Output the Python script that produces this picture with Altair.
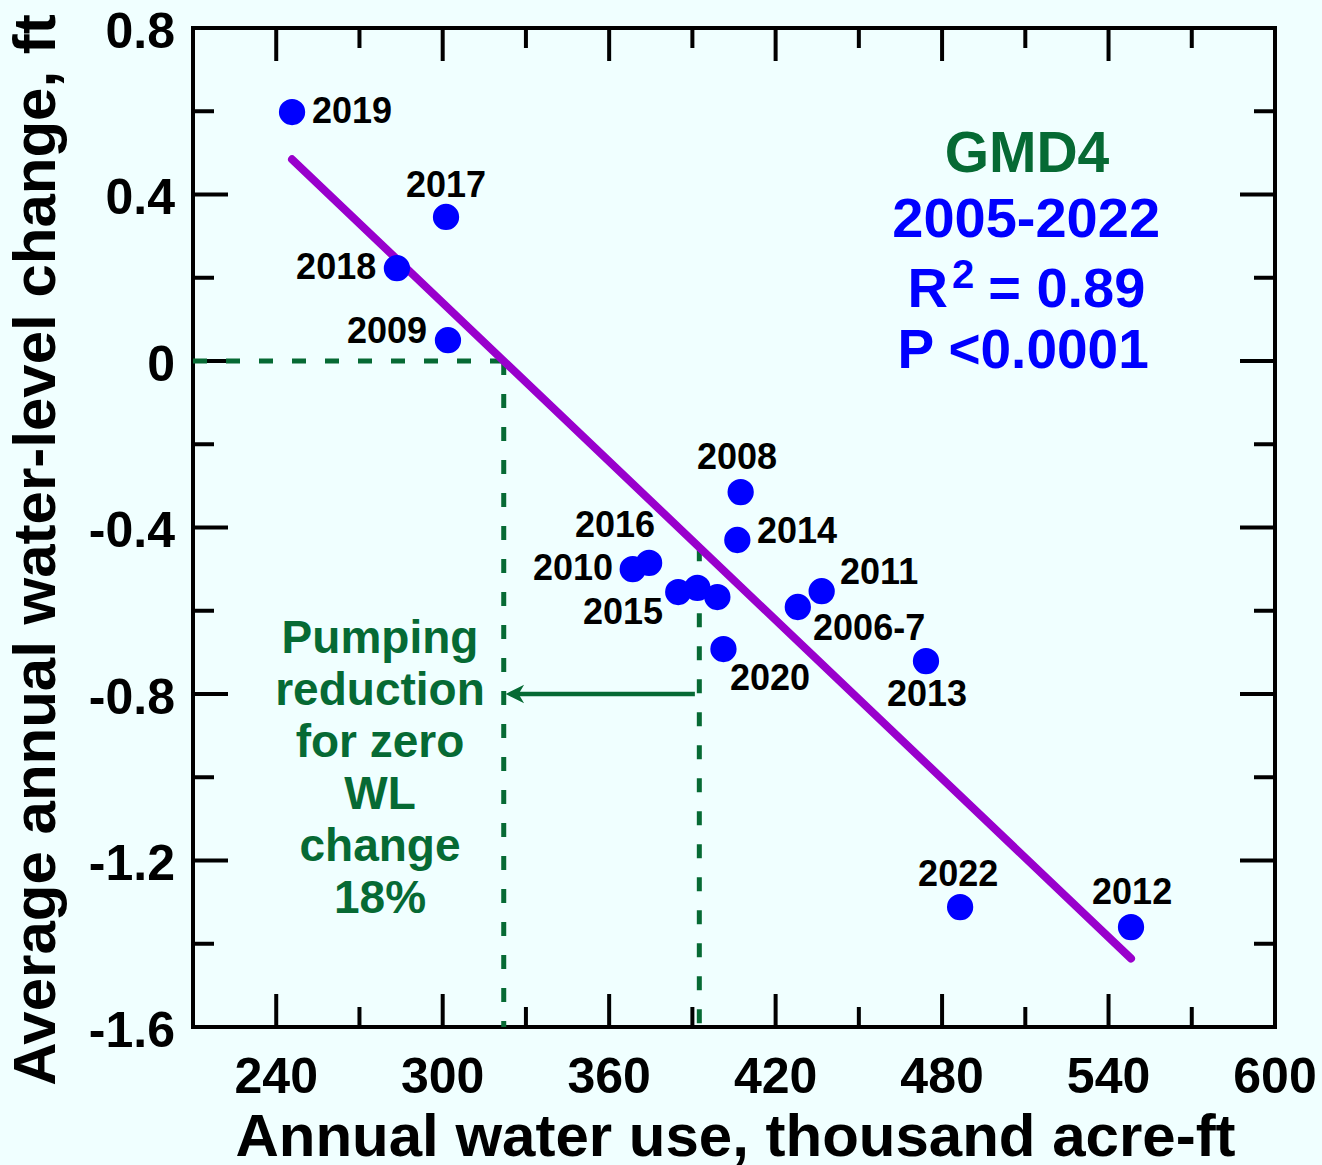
import altair as alt
import pandas as pd

# ---- data: GMD4 annual water use vs. average water-level change ----
years = ["2019", "2017", "2018", "2009", "2008", "2014", "2016", "2010",
         "2015", "", "", "2020", "2011", "2006-7", "2013", "2022", "2012"]
water_use = [245.7, 301.2, 283.5, 301.9, 407.4, 406.2, 374.4, 368.5,
             384.9, 391.8, 399.0, 401.2, 436.6, 428.0, 474.2, 486.5, 548.1]
wl_change = [0.598, 0.346, 0.223, 0.050, -0.315, -0.430, -0.485, -0.500,
             -0.555, -0.545, -0.567, -0.692, -0.553, -0.591, -0.721, -1.312, -1.360]

# year label anchor points (data units)
label_text = ["2019", "2017", "2018", "2009", "2008", "2014", "2016", "2010",
              "2015", "2020", "2011", "2006-7", "2013", "2022", "2012"]
label_use = [267.3, 301.2, 261.6, 279.9, 406.1, 427.7, 362.1, 347.0,
             365.0, 418.0, 457.3, 453.7, 474.6, 485.8, 548.5]
label_wl = [0.598, 0.420, 0.223, 0.070, -0.233, -0.411, -0.396, -0.500,
            -0.605, -0.764, -0.509, -0.644, -0.802, -1.235, -1.278]

# linear fit and reference use
fit_slope = -0.006349
fit_intercept = 2.0444
mean_use = 392.5
zero_use = -fit_intercept / fit_slope

# axis ticks and labels
x_label_values = [240, 300, 360, 420, 480, 540, 600]
x_label_text = ["240", "300", "360", "420", "480", "540", "600"]
y_label_values = [0.8, 0.4, 0.0, -0.4, -0.8, -1.2, -1.6]
y_label_text = ["0.8", "0.4", "0", "-0.4", "-0.8", "-1.2", "-1.6"]
x_major = [240, 300, 360, 420, 480, 540]
x_minor = [270, 330, 390, 450, 510, 570]
y_major = [0.4, 0.0, -0.4, -0.8, -1.2]
y_minor = [0.6, 0.2, -0.2, -0.6, -1.0, -1.4]

W, H = 1082, 999
FONT = "Liberation Sans"
GREEN = "#066a34"
BLUE = "#0000ff"
PURPLE = "#9900cc"

x_scale = alt.Scale(domain=[210, 600], nice=False, zero=False)
y_scale = alt.Scale(domain=[-1.6, 0.8], nice=False, zero=False)


def xq(field):
    return alt.X(field, type="quantitative", scale=x_scale, axis=None)


def yq(field):
    return alt.Y(field, type="quantitative", scale=y_scale, axis=None)


# ---- inward ticks on all four sides ----
def y_ticks(values, length, side):
    x0, x1 = (0, length) if side == "left" else (W - length, W)
    return alt.Chart(pd.DataFrame({"v": values})).mark_rule(
        color="black", strokeWidth=4
    ).encode(y=yq("v"), x=alt.value(x0), x2=alt.value(x1))


def x_ticks(values, length, side):
    y0, y1 = (H - length, H) if side == "bottom" else (0, length)
    return alt.Chart(pd.DataFrame({"v": values})).mark_rule(
        color="black", strokeWidth=4
    ).encode(x=xq("v"), y=alt.value(y0), y2=alt.value(y1))


tick_layers = [
    y_ticks(y_major, 35, "left"), y_ticks(y_minor, 21, "left"),
    y_ticks(y_major, 35, "right"), y_ticks(y_minor, 21, "right"),
    x_ticks(x_major, 33, "bottom"), x_ticks(x_minor, 20, "bottom"),
    x_ticks(x_major, 33, "top"), x_ticks(x_minor, 20, "top"),
]

# ---- tick labels ----
x_tick_labels = alt.Chart(pd.DataFrame({"v": x_label_values, "t": x_label_text})).mark_text(
    font=FONT, fontSize=50, fontWeight="bold", color="black",
    align="center", baseline="alphabetic"
).encode(x=xq("v"), y=alt.value(H + 66), text="t:N")

y_tick_labels = alt.Chart(pd.DataFrame({"v": y_label_values, "t": y_label_text})).mark_text(
    font=FONT, fontSize=50, fontWeight="bold", color="black",
    align="right", baseline="alphabetic", dy=19.5
).encode(y=yq("v"), x=alt.value(-18), text="t:N")

# ---- dashed guides ----
guides = pd.DataFrame({
    "x": [210, zero_use, mean_use],
    "x2": [zero_use, zero_use, mean_use],
    "y": [0.0, 0.0, fit_intercept + fit_slope * mean_use],
    "y2": [0.0, -1.6, -1.6],
})
guide_layer = alt.Chart(guides).mark_rule(
    color=GREEN, strokeWidth=5, strokeDash=[14, 19]
).encode(x=xq("x"), x2="x2", y=yq("y"), y2="y2")

# ---- arrow from current use to zero-change use ----
arrow_y = -0.8
arrow_df = pd.DataFrame({"x": [mean_use - 1.6], "x2": [zero_use + 2.5], "y": [arrow_y]})
arrow_line = alt.Chart(arrow_df).mark_rule(color=GREEN, strokeWidth=4.5).encode(
    x=xq("x"), x2="x2", y=yq("y")
)
head_df = pd.DataFrame({"x": [zero_use + 0.7], "y": [arrow_y]})
arrow_head = alt.Chart(head_df).mark_point(
    shape="M 0 0 L 2 -1 L 1.4 0 L 2 1 Z", filled=True, color=GREEN,
    opacity=1, size=340, strokeWidth=0
).encode(x=xq("x"), y=yq("y"))

# ---- regression line ----
fit_x = [min(water_use), max(water_use)]
fit_df = pd.DataFrame({"x": fit_x, "y": [fit_intercept + fit_slope * v for v in fit_x]})
fit_layer = alt.Chart(fit_df).mark_line(
    color=PURPLE, strokeWidth=8, strokeCap="round"
).encode(x=xq("x"), y=yq("y"))

# ---- points ----
pts = pd.DataFrame({"use": water_use, "wl": wl_change, "year": years})
point_layer = alt.Chart(pts).mark_circle(size=690, color=BLUE, opacity=1).encode(
    x=xq("use"), y=yq("wl")
)

# ---- year labels ----
labels = pd.DataFrame({"x": label_use, "y": label_wl, "t": label_text})
label_layer = alt.Chart(labels).mark_text(
    font=FONT, fontSize=36, fontWeight="bold", color="black",
    align="center", baseline="middle"
).encode(x=xq("x"), y=yq("y"), text="t:N")


# ---- annotations ----
def note(text, x, y, color, size, align="center"):
    return alt.Chart(pd.DataFrame({"x": [x], "y": [y], "t": [text]})).mark_text(
        font=FONT, fontSize=size, fontWeight="bold", color=color,
        align=align, baseline="alphabetic"
    ).encode(x=xq("x"), y=yq("y"), text="t:N")


stats = [
    note("GMD4", 510.6, 0.454, GREEN, 57),
    note("2005-2022", 510.3, 0.298, BLUE, 56),
    note("R", 467.5, 0.130, BLUE, 56, "left"),
    note("2", 483.6, 0.175, BLUE, 40, "left"),
    note("= 0.89", 496.6, 0.130, BLUE, 56, "left"),
    note("P <0.0001", 509.2, -0.017, BLUE, 55),
]

reduction_lines = ["Pumping", "reduction", "for zero", "WL", "change", "18%"]
reduction_y = [-0.7015, -0.8264, -0.9514, -1.0763, -1.2012, -1.3261]
reduction = [note(t, 277.4, y, GREEN, 46) for t, y in zip(reduction_lines, reduction_y)]

# ---- axis titles ----
x_title = alt.Chart(pd.DataFrame({"t": ["Annual water use, thousand acre-ft"]})).mark_text(
    font=FONT, fontSize=60, fontWeight="bold", color="black",
    align="center", baseline="alphabetic"
).encode(x=alt.value(735.5 - 193), y=alt.value(1156 - 28), text="t:N")

y_title = alt.Chart(pd.DataFrame({"t": ["Average annual water-level change, ft"]})).mark_text(
    font=FONT, fontSize=60, fontWeight="bold", color="black",
    align="center", baseline="alphabetic", angle=270
).encode(x=alt.value(55 - 193), y=alt.value(550 - 28), text="t:N")

chart = alt.layer(
    *tick_layers, x_tick_labels, y_tick_labels, guide_layer, arrow_line, arrow_head,
    fit_layer, point_layer, label_layer, *stats, *reduction, x_title, y_title
).properties(
    width=W, height=H,
    padding={"left": 193, "top": 28, "right": 1322 - 193 - W, "bottom": 1165 - 28 - H},
    autosize=alt.AutoSizeParams(type="none"),
    background="#f0ffff",
).configure_view(stroke="black", strokeWidth=4)

chart.save("out.html", embed_options={"renderer": "svg", "actions": False})
